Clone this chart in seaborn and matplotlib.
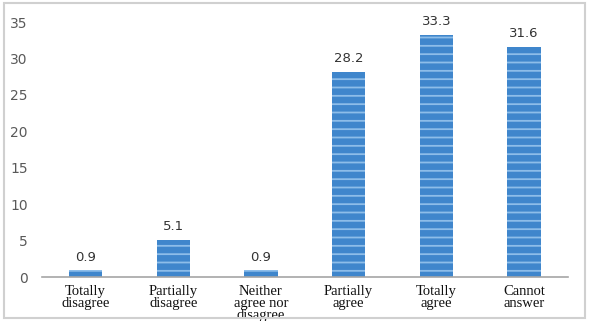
import matplotlib
matplotlib.use("Agg")
import matplotlib.pyplot as plt
import pandas as pd
import seaborn as sns
from matplotlib.patches import Rectangle

categories = [
    "Totally\ndisagree",
    "Partially\ndisagree",
    "Neither\nagree nor\ndisagree",
    "Partially\nagree",
    "Totally\nagree",
    "Cannot\nanswer",
]
values = [0.9, 5.1, 0.9, 28.2, 33.3, 31.6]
yticks = [0, 5, 10, 15, 20, 25, 30, 35]

df = pd.DataFrame({"category": categories, "value": values})

sns.set_style("white")
plt.rcParams["hatch.linewidth"] = 1.3
plt.rcParams["hatch.color"] = "#8dbde9"

fig = plt.figure(figsize=(5.89, 3.21), dpi=100)
ax = fig.add_axes([0.071, 0.137, 0.893, 0.794])

sns.barplot(data=df, x="category", y="value", color="#3f86cc",
            width=0.38, saturation=1, ax=ax)
for bar in ax.patches:
    bar.set_hatch("--")
    bar.set_edgecolor("#8dbde9")
    bar.set_linewidth(0)

for bar, v in zip(ax.patches, values):
    ax.text(bar.get_x() + bar.get_width() / 2, v + 0.9, f"{v:.1f}",
            ha="center", va="bottom", fontsize=9.5, color="#333333",
            family="DejaVu Sans")

ax.set_ylim(0, 35)
ax.set_xlim(-0.5, 5.5)
ax.set_yticks(yticks)
ax.set_yticklabels([str(t) for t in yticks], fontsize=10, color="#595959")
ax.set_xticks(range(len(categories)))
ax.set_xticklabels(categories, fontsize=10.5, family="Liberation Serif",
                   color="#111111", linespacing=0.9)
ax.tick_params(axis="both", length=0)
ax.tick_params(axis="x", pad=6)
ax.tick_params(axis="y", pad=10)
ax.set_xlabel("")
ax.set_ylabel("")
for side in ["top", "right", "left"]:
    ax.spines[side].set_visible(False)
ax.spines["bottom"].set_color("#a6a6a6")
ax.spines["bottom"].set_linewidth(1.2)

fig.patches.append(Rectangle((0.006, 0.01), 0.988, 0.98, transform=fig.transFigure,
                             fill=False, edgecolor="#d0d0d0", linewidth=1.5))

fig.savefig("out.png", dpi=100)
